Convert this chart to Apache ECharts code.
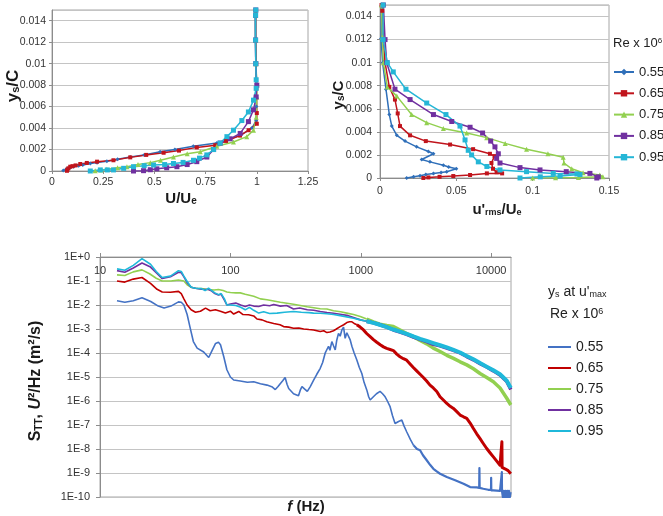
<!DOCTYPE html>
<html><head><meta charset="utf-8">
<script src="https://cdn.jsdelivr.net/npm/echarts@6/dist/echarts.min.js"></script>
<style>html,body{margin:0;padding:0;background:#fff}#c{width:663px;height:516px}</style>
</head><body><div id="c"></div><script>
// ---------- data ----------
const reLabels = ['0.55', '0.65', '0.75', '0.85', '0.95'];

// Mean velocity profiles  [U/Ue, ys/C]
const meanU_055 = [[0.993,0.015],[0.992,0.0145],[0.993,0.0122],[0.995,0.01],[0.997,0.0077],[0.998,0.006],[0.997,0.0047],[0.976,0.004],[0.918,0.0033],[0.805,0.0026],[0.69,0.0023],[0.6,0.002],[0.528,0.0018],[0.45,0.0015],[0.382,0.0013],[0.32,0.0011],[0.268,0.0009],[0.22,0.00078],[0.187,0.0007],[0.15,0.00055],[0.13,0.00048],[0.105,0.0004],[0.085,0.00025],[0.07,0.00018],[0.055,0.00005]];
const meanU_065 = [[0.996,0.015],[0.995,0.0145],[0.995,0.0122],[0.997,0.01],[0.998,0.0077],[1.0,0.0054],[1.0,0.0044],[0.96,0.0038],[0.918,0.0033],[0.85,0.0028],[0.797,0.0024],[0.707,0.0022],[0.62,0.0019],[0.545,0.0017],[0.46,0.0015],[0.382,0.00127],[0.3,0.001],[0.22,0.00087],[0.17,0.00075],[0.138,0.00065],[0.115,0.00052],[0.1,0.00045],[0.089,0.0004],[0.08,0.00025],[0.075,0.00012],[0.073,0.00002]];
const meanU_075 = [[0.995,0.015],[0.994,0.0145],[0.994,0.0122],[0.996,0.01],[1.0,0.008],[1.0,0.0069],[0.997,0.005],[0.984,0.0038],[0.951,0.0032],[0.886,0.0027],[0.805,0.0023],[0.724,0.0018],[0.66,0.0016],[0.593,0.0013],[0.53,0.001],[0.48,0.00078],[0.42,0.0006],[0.366,0.0004],[0.32,0.0003],[0.268,0.00016],[0.24,0.0001],[0.211,0.00002]];
const meanU_085 = [[0.995,0.015],[0.994,0.0145],[0.994,0.0122],[0.995,0.01],[1.0,0.008],[0.997,0.0069],[0.984,0.0057],[0.959,0.0046],[0.919,0.0035],[0.87,0.003],[0.821,0.0026],[0.789,0.002],[0.756,0.0013],[0.707,0.00087],[0.66,0.0006],[0.61,0.0004],[0.56,0.0003],[0.512,0.0002],[0.48,0.00012],[0.447,0.00003],[0.398,0.0]];
const meanU_095 = [[0.995,0.015],[0.994,0.0145],[0.994,0.0122],[0.995,0.01],[0.997,0.0085],[0.997,0.0077],[0.984,0.0066],[0.959,0.0055],[0.927,0.0047],[0.886,0.0038],[0.854,0.0032],[0.821,0.0026],[0.789,0.002],[0.756,0.0015],[0.72,0.0012],[0.691,0.001],[0.64,0.0008],[0.593,0.0007],[0.55,0.0006],[0.496,0.00056],[0.45,0.0005],[0.398,0.0004],[0.35,0.00025],[0.3,0.0001],[0.27,0.0001],[0.236,0.0001],[0.187,0.0]];

// Turbulence intensity profiles  [u'rms/Ue, ys/C]
const urms_055 = [[0.0011,0.015],[0.0007,0.0121],[0.0017,0.01],[0.0039,0.0077],[0.0061,0.0055],[0.0077,0.0045],[0.011,0.0037],[0.0164,0.0032],[0.024,0.0027],[0.0317,0.0023],[0.035,0.0021],[0.0273,0.0016],[0.0327,0.0014],[0.0415,0.0011],[0.045,0.00095],[0.05,0.0008],[0.0437,0.00055],[0.04,0.00048],[0.035,0.0004],[0.03,0.0003],[0.0262,0.0002],[0.022,0.0001],[0.0175,0.0]];
const urms_065 = [[0.001,0.015],[0.0015,0.0145],[0.0022,0.012],[0.0033,0.01],[0.0061,0.0079],[0.0098,0.0068],[0.0116,0.0056],[0.0131,0.0045],[0.0197,0.0037],[0.03,0.0032],[0.0459,0.0029],[0.061,0.0025],[0.072,0.0021],[0.075,0.0019],[0.073,0.0013],[0.074,0.0008],[0.0764,0.0005],[0.08,0.0004],[0.07,0.0004],[0.059,0.00026],[0.048,0.00017],[0.039,0.0001],[0.0317,0.00005],[0.0284,0.0]];
const urms_075 = [[0.001,0.015],[0.0015,0.0122],[0.0022,0.01],[0.0048,0.0079],[0.011,0.0071],[0.0207,0.0055],[0.0306,0.0048],[0.0415,0.0043],[0.0568,0.0039],[0.0699,0.0035],[0.082,0.003],[0.096,0.0025],[0.11,0.0021],[0.12,0.0018],[0.1205,0.0013],[0.1256,0.0008],[0.133,0.00046],[0.144,0.00026],[0.146,0.0001],[0.13,0.00005],[0.115,0.00002],[0.1,0.0]];
const urms_085 = [[0.0022,0.015],[0.0033,0.012],[0.0044,0.01],[0.0098,0.0077],[0.0197,0.0068],[0.035,0.0055],[0.047,0.0049],[0.059,0.0044],[0.0672,0.0039],[0.0725,0.0032],[0.0753,0.0027],[0.0775,0.0021],[0.0764,0.0017],[0.0786,0.0013],[0.0917,0.0009],[0.1048,0.0007],[0.122,0.00055],[0.1375,0.0004],[0.143,0.0001],[0.142,0.0]];
const urms_095 = [[0.002,0.015],[0.002,0.012],[0.0048,0.01],[0.0087,0.0092],[0.017,0.0077],[0.0306,0.0065],[0.0432,0.0055],[0.0524,0.0045],[0.0557,0.0033],[0.0578,0.0024],[0.06,0.002],[0.0644,0.0014],[0.07,0.001],[0.0786,0.0007],[0.096,0.00055],[0.1135,0.0004],[0.129,0.00035],[0.131,0.0003],[0.118,0.00017],[0.105,0.0001],[0.0917,0.0]];

// Spectra  [f (Hz), S_TT]
const spec_055 = [[13.5,1.5e-2],[15.5,1.3e-2],[18,1.5e-2],[21,2.0e-2],[24.5,1.4e-2],[28,9e-3],[31,7.5e-3],[35,9e-3],[40,1.35e-2],[42,1.3e-2],[44,1.0e-2],[46.6,4e-3],[49,1.2e-3],[52,3e-4],[55.6,1.6e-4],[62.4,1.1e-4],[68.2,6.5e-5],[72,1.2e-4],[77,2.5e-4],[81,2.8e-4],[84,2.2e-4],[89,7e-5],[94,2e-5],[100,1.0e-5],[106,7.5e-6],[119,6.8e-6],[135,6.0e-6],[151,6.3e-6],[170,5.2e-6],[191,4.6e-6],[210,3.8e-6],[221,3.0e-6],[232,4.0e-6],[242,5.4e-6],[252,7e-6],[263,9.5e-6],[272,5e-6],[280,3.3e-6],[305,2.0e-6],[333,1.66e-6],[345,3e-6],[354,4.0e-6],[370,3.2e-6],[389,2.5e-6],[410,4e-6],[435,7.4e-6],[460,1.3e-5],[489,2.3e-5],[510,4e-5],[533,9.8e-5],[550,1.4e-4],[566,1.9e-4],[580,1.3e-4],[600,3.0e-4],[618,2.0e-4],[637,1.35e-4],[655,3.5e-4],[675,6.6e-4],[695,5e-4],[716,9.1e-4],[738,1.2e-3],[759,4.1e-4],[782,7e-4],[805,6.6e-4],[830,3.5e-4],[855,1.9e-4],[890,1.0e-4],[933,5.1e-5],[975,2.5e-5],[1019,1.4e-5],[1060,6e-6],[1112,2.9e-6],[1150,1.5e-6],[1180,1.1e-6],[1250,1.5e-6],[1320,2.0e-6],[1406,2.5e-6],[1470,2.0e-6],[1538,1.5e-6],[1600,1.0e-6],[1679,5.8e-7],[1750,2.5e-7],[1832,1.15e-7],[1950,1.4e-7],[2065,1.6e-7],[2150,9e-8],[2254,5.1e-8],[2400,2.5e-8],[2535,1.45e-8],[2700,1.0e-8],[2851,8.9e-9],[3000,5.5e-9],[3206,3.4e-9],[3400,2.2e-9],[3606,1.5e-9],[3800,1.2e-9],[4055,9.3e-10],[4571,6.8e-10],[5297,5.0e-10],[6138,3.6e-10],[6902,2.6e-10],[7762,2.5e-10],[8100,2.4e-10],[8128,1.6e-9],[8160,2.4e-10],[8710,2.2e-10],[9500,2.0e-10],[9980,2.0e-10],[10000,6.3e-10],[10030,1.9e-10],[10400,1.9e-10],[11700,1.8e-10],[12050,1.8e-10],[12080,1.1e-9],[12110,1.8e-10],[12300,1.0e-10],[12500,1.8e-10],[12700,1.0e-10],[12900,1.8e-10],[13100,1.0e-10],[13300,1.8e-10],[13500,1.0e-10],[13700,1.8e-10],[13900,1.0e-10],[14100,1.6e-10]];
const spec_065 = [[13.5,1.0e-1],[15.5,9e-2],[18,1.2e-1],[21,1.4e-1],[24.4,8e-2],[27.4,4.5e-2],[30,3.5e-2],[34.7,3.4e-2],[40,3.7e-2],[42,3.0e-2],[44,1.8e-2],[46.6,1.0e-2],[50,6.3e-3],[54,5.0e-3],[58.9,5.5e-3],[64.5,7.4e-3],[70,5.8e-3],[76.8,6.3e-3],[83.8,5.5e-3],[91.6,4.6e-3],[100,5.5e-3],[106,4.2e-3],[116,5.4e-3],[125,4.0e-3],[138,3.9e-3],[151,3.5e-3],[160,2.6e-3],[175,2.4e-3],[190,2.0e-3],[215,1.7e-3],[240,1.5e-3],[256,1.26e-3],[280,1.2e-3],[305,1.07e-3],[335,1.1e-3],[365,1.0e-3],[400,9.5e-4],[435,9.1e-4],[489,7.8e-4],[520,8.5e-4],[550,7.1e-4],[580,7.5e-4],[618,8.5e-4],[650,1.0e-3],[695,1.26e-3],[740,1.5e-3],[782,1.86e-3],[820,2.0e-3],[855,2.0e-3],[890,1.7e-3],[933,1.5e-3],[990,1.2e-3],[1050,9.1e-4],[1110,6.5e-4],[1180,4.8e-4],[1250,3.6e-4],[1327,2.8e-4],[1410,2.2e-4],[1493,1.8e-4],[1580,1.55e-4],[1679,1.4e-4],[1780,1.26e-4],[1888,9e-5],[2000,7e-5],[2123,5.8e-5],[2250,5e-5],[2388,3.5e-5],[2530,2.5e-5],[2685,1.8e-5],[2850,1.3e-5],[3020,9.5e-6],[3200,6.8e-6],[3396,4.6e-6],[3600,3.5e-6],[3828,2.5e-6],[4055,1.5e-6],[4300,1.1e-6],[4571,7.9e-7],[4850,6.0e-7],[5140,4.9e-7],[5450,3.6e-7],[5781,2.6e-7],[6138,2.2e-7],[6501,1.9e-7],[6900,1.2e-7],[7311,7.1e-8],[7750,4.3e-8],[8222,2.7e-8],[8700,1.7e-8],[9247,1.05e-8],[9800,7e-9],[10400,4.7e-9],[11000,3.2e-9],[11700,2.1e-9],[12050,1.8e-9],[12090,2.0e-8],[12130,1.7e-9],[12760,1.5e-9],[13500,1.26e-9],[14150,9.3e-10]];
const spec_075 = [[13.5,1.8e-1],[15.5,1.7e-1],[18,2.4e-1],[21,2.9e-1],[24,2.0e-1],[27,1.3e-1],[30,1.0e-1],[35,1.0e-1],[40,1.1e-1],[44,1.0e-1],[46.6,7e-2],[50,5.5e-2],[54,5.0e-2],[60,4.8e-2],[68,4.4e-2],[75,4.2e-2],[81,4.4e-2],[88,4.0e-2],[94,3.5e-2],[100,3.3e-2],[110,3.2e-2],[119,3.2e-2],[130,2.8e-2],[151,2.3e-2],[170,1.8e-2],[191,1.66e-2],[242,1.3e-2],[305,1.07e-2],[389,8.5e-3],[489,7e-3],[550,6.8e-3],[618,5.8e-3],[700,5.2e-3],[782,4.6e-3],[880,4.0e-3],[991,3.3e-3],[1110,2.6e-3],[1250,2.0e-3],[1400,1.6e-3],[1585,1.4e-3],[1780,1.26e-3],[2004,9.1e-4],[2250,6.5e-4],[2535,4.8e-4],[2850,3.3e-4],[3206,2.4e-4],[3600,1.6e-4],[4055,1.15e-4],[4571,8e-5],[5140,6.0e-5],[5781,4.3e-5],[6501,3.2e-5],[7311,2.2e-5],[8222,1.4e-5],[9247,9.5e-6],[10400,6.3e-6],[11700,3.5e-6],[13180,1.3e-6],[14150,6.8e-7]];
const spec_085 = [[13.5,2.7e-1],[15.5,2.3e-1],[18,3.5e-1],[21,5.6e-1],[24.4,3.8e-1],[27,2.2e-1],[30,1.26e-1],[34.7,1.5e-1],[40,2.3e-1],[42,2.2e-1],[44,1.5e-1],[46.6,8.5e-2],[50,5.5e-2],[54,5.0e-2],[60,4.5e-2],[68,4.4e-2],[72,3.8e-2],[76,3.0e-2],[81,2.6e-2],[85,2.8e-2],[90,1.6e-2],[94,1.0e-2],[100,1.1e-2],[110,1.2e-2],[120,1.0e-2],[130,8.7e-3],[140,1.0e-2],[151,9e-3],[165,8.7e-3],[180,1.0e-2],[200,9.3e-3],[215,1.05e-2],[242,9e-3],[270,9.5e-3],[305,6.8e-3],[340,7.5e-3],[389,6.3e-3],[435,6.0e-3],[489,5.4e-3],[550,4.9e-3],[618,4.5e-3],[695,4.1e-3],[782,3.7e-3],[880,3.0e-3],[991,2.4e-3],[1110,2.1e-3],[1250,1.8e-3],[1400,1.5e-3],[1585,1.2e-3],[1780,9.1e-4],[2004,7.5e-4],[2250,6e-4],[2535,4.6e-4],[2850,3.7e-4],[3206,3.0e-4],[3600,2.3e-4],[4055,2.0e-4],[4571,1.6e-4],[5140,1.3e-4],[5781,1.0e-4],[6501,7.1e-5],[7311,5.2e-5],[8222,3.6e-5],[9247,2.6e-5],[10400,1.8e-5],[11700,1.2e-5],[13180,6.5e-6],[14150,3.0e-6]];
const spec_095 = [[13.5,3.2e-1],[15.5,2.8e-1],[18,4.5e-1],[21,8.5e-1],[24.4,5.0e-1],[27,2.5e-1],[30,1.4e-1],[34.7,1.6e-1],[40,2.7e-1],[42,2.5e-1],[44,1.6e-1],[46.6,9.5e-2],[50,5.5e-2],[54,5.0e-2],[60,4.8e-2],[64,4.0e-2],[68,5.0e-2],[72,4.0e-2],[76,3.2e-2],[81,2.7e-2],[85,3.0e-2],[90,1.8e-2],[94,1.0e-2],[100,1.0e-2],[110,9.5e-3],[120,8e-3],[130,6.3e-3],[140,8e-3],[151,6e-3],[165,4.6e-3],[180,5.2e-3],[200,4.4e-3],[228,4.6e-3],[260,5.0e-3],[305,5.4e-3],[350,5.0e-3],[400,4.8e-3],[435,4.6e-3],[489,4.5e-3],[550,4.3e-3],[618,4.0e-3],[695,3.6e-3],[782,3.2e-3],[880,2.8e-3],[991,2.4e-3],[1110,2.1e-3],[1250,1.8e-3],[1400,1.5e-3],[1585,1.2e-3],[1780,9.5e-4],[2004,7.8e-4],[2250,6.3e-4],[2535,4.9e-4],[2850,3.9e-4],[3206,3.2e-4],[3600,2.6e-4],[4055,2.1e-4],[4571,1.7e-4],[5140,1.35e-4],[5781,1.05e-4],[6501,7.5e-5],[7311,5.5e-5],[8222,3.8e-5],[9247,2.7e-5],[10400,1.9e-5],[11700,1.3e-5],[13180,7e-6],[14150,3.5e-6]];

const meanU = [meanU_055, meanU_065, meanU_075, meanU_085, meanU_095];
const urms = [urms_055, urms_065, urms_075, urms_085, urms_095];
const spectra = [spec_055, spec_065, spec_075, spec_085, spec_095];

// ---------- styles ----------
const topColors = ['#2F6FB9', '#C0141C', '#92D050', '#7030A0', '#25B6D6'];
const botColors = ['#4472C4', '#C00000', '#92D050', '#7030A0', '#1FB8DA'];
const symbols = ['diamond', 'rect', 'triangle', 'rect', 'rect'];
const symSizes = [4, 4, 5, 5, 5];
// noisy (thick) part of each spectrum starts at this frequency
const bandFrom = [2500, 900, 1000, 1000, 1000];
const bandWidth = [2.2, 3, 3.5, 3.5, 4];
const FONT = 'Liberation Sans, Arial, sans-serif';
const LBL = '#333';
const GRIDC = '#C4C4C4';
const AXC = '#8C8C8C';

const chart = echarts.init(document.getElementById('c'), null, { renderer: 'canvas' });

function valAxis(gi, o) {
  return Object.assign({
    type: 'value', gridIndex: gi,
    axisLine: { show: true, onZero: false, lineStyle: { color: AXC, width: 1 } },
    axisTick: { show: true, length: 3, lineStyle: { color: AXC } },
    splitLine: { show: false },
    axisLabel: { color: LBL, fontSize: 10.5, fontFamily: FONT }
  }, o);
}

const series = [];
reLabels.forEach((n, i) => {
  series.push({
    name: n, type: 'line', xAxisIndex: 0, yAxisIndex: 0, data: meanU[i],
    symbol: symbols[i], symbolSize: symSizes[i], showSymbol: true,
    lineStyle: { color: topColors[i], width: 1.5 }, itemStyle: { color: topColors[i] }
  });
});
reLabels.forEach((n, i) => {
  series.push({
    name: n, type: 'line', xAxisIndex: 1, yAxisIndex: 1, data: urms[i],
    symbol: symbols[i], symbolSize: symSizes[i], showSymbol: true,
    lineStyle: { color: topColors[i], width: 1.5 }, itemStyle: { color: topColors[i] }
  });
});
reLabels.forEach((n, i) => {
  const d = spectra[i];
  let k = d.findIndex(p => p[0] >= bandFrom[i]);
  if (k < 0) k = d.length - 1;
  series.push({
    name: 'S' + n, type: 'line', xAxisIndex: 2, yAxisIndex: 2, data: d.slice(0, k + 1),
    symbol: 'none', showSymbol: false,
    lineStyle: { color: botColors[i], width: 1.6 }, itemStyle: { color: botColors[i] }
  });
  series.push({
    name: 'S' + n, type: 'line', xAxisIndex: 2, yAxisIndex: 2, data: d.slice(k),
    symbol: 'none', showSymbol: false,
    lineStyle: { color: botColors[i], width: bandWidth[i], join: 'round' }, itemStyle: { color: botColors[i] }
  });
});

const sub = (fs) => ({ fontSize: fs, fontWeight: 'bold', fontFamily: FONT, lineHeight: 6, verticalAlign: 'bottom' });
const sup = (fs) => ({ fontSize: fs, fontFamily: FONT, lineHeight: 6, verticalAlign: 'top' });

chart.setOption({
  animation: false,
  backgroundColor: '#fff',
  grid: [
    { left: 52, top: 10, width: 256, height: 161, show: true, borderColor: '#A6A6A6', borderWidth: 1, backgroundColor: 'transparent' },
    { left: 380, top: 5, width: 229, height: 173, show: true, borderColor: '#A6A6A6', borderWidth: 1, backgroundColor: 'transparent' },
    { left: 100, top: 257, width: 411, height: 240, show: true, borderColor: '#A6A6A6', borderWidth: 1, backgroundColor: 'transparent' }
  ],
  xAxis: [
    valAxis(0, { min: 0, max: 1.25, interval: 0.25, position: 'bottom',
      axisLabel: { color: LBL, fontSize: 10.5, fontFamily: FONT, margin: 6 } }),
    valAxis(1, { min: 0, max: 0.15, interval: 0.05, position: 'bottom',
      axisLabel: { color: LBL, fontSize: 10.5, fontFamily: FONT, margin: 8 } }),
    { type: 'log', gridIndex: 2, logBase: 10, min: 10, max: 14200, interval: 1, position: 'top',
      axisLine: { show: true, onZero: false, lineStyle: { color: AXC } },
      axisTick: { show: true, length: 4, inside: false, lineStyle: { color: AXC } },
      splitLine: { show: false }, minorTick: { show: false }, minorSplitLine: { show: false },
      axisLabel: { inside: true, margin: 8, color: LBL, fontSize: 11, fontFamily: FONT, showMaxLabel: false,
        formatter: v => String(Math.round(v)) } }
  ],
  yAxis: [
    valAxis(0, { min: 0, max: 0.015, interval: 0.002,
      splitLine: { show: true, lineStyle: { color: GRIDC, width: 1 } },
      axisLabel: { color: LBL, fontSize: 10.5, fontFamily: FONT, margin: 6, showMaxLabel: false } }),
    valAxis(1, { min: 0, max: 0.015, interval: 0.002,
      splitLine: { show: true, lineStyle: { color: GRIDC, width: 1 } },
      axisLabel: { color: LBL, fontSize: 10.5, fontFamily: FONT, margin: 8, showMaxLabel: false } }),
    { type: 'log', gridIndex: 2, logBase: 10, min: 1e-10, max: 1, interval: 1, splitNumber: 10,
      axisLine: { show: true, onZero: false, lineStyle: { color: AXC } },
      axisTick: { show: true, length: 4, lineStyle: { color: AXC } },
      splitLine: { show: true, lineStyle: { color: GRIDC, width: 1 } },
      minorTick: { show: false }, minorSplitLine: { show: false },
      axisLabel: { color: LBL, fontSize: 11, fontFamily: FONT, margin: 10,
        formatter: v => { const e = Math.round(Math.log10(v)); return '1E' + (e >= 0 ? '+' : '') + e; } } }
  ],
  legend: [
    { data: reLabels, orient: 'vertical', left: 608, top: 60, itemWidth: 20, itemHeight: 8, itemGap: 7.3,
      selectedMode: false, textStyle: { fontSize: 13, lineHeight: 14, color: '#222', fontFamily: FONT } },
    { data: reLabels.map(n => ({ name: 'S' + n, icon: 'rect' })), orient: 'vertical', left: 543, top: 335,
      itemWidth: 23, itemHeight: 2, itemGap: 7,
      selectedMode: false, formatter: n => n.slice(1),
      textStyle: { fontSize: 14, lineHeight: 14, color: '#222', fontFamily: FONT } }
  ],
  graphic: [
    { type: 'text', x: 13, y: 86, rotation: Math.PI / 2,
      style: { text: '{b|y}{s|s}{b|/C}', align: 'center', verticalAlign: 'middle', fill: '#1a1a1a',
        rich: { b: { fontSize: 17, fontWeight: 'bold', fontFamily: FONT }, s: sub(11) } } },
    { type: 'text', x: 181, y: 199,
      style: { text: '{b|U/U}{s|e}', align: 'center', verticalAlign: 'middle', fill: '#1a1a1a',
        rich: { b: { fontSize: 15, fontWeight: 'bold', fontFamily: FONT }, s: sub(10) } } },
    { type: 'text', x: 339, y: 95, rotation: Math.PI / 2,
      style: { text: '{b|y}{s|s}{b|/C}', align: 'center', verticalAlign: 'middle', fill: '#1a1a1a',
        rich: { b: { fontSize: 15, fontWeight: 'bold', fontFamily: FONT }, s: sub(10) } } },
    { type: 'text', x: 497, y: 210,
      style: { text: "{b|u'}{s|rms}{b|/U}{s|e}", align: 'center', verticalAlign: 'middle', fill: '#1a1a1a',
        rich: { b: { fontSize: 15, fontWeight: 'bold', fontFamily: FONT }, s: sub(9) } } },
    { type: 'text', x: 613, y: 43,
      style: { text: 'Re x 10{p|6}', align: 'left', verticalAlign: 'middle', fill: '#222', fontSize: 13, fontFamily: FONT,
        rich: { p: sup(8) } } },
    { type: 'text', x: 36, y: 381, rotation: Math.PI / 2,
      style: { text: '{b|S}{s|TT}{b|, }{i|U}{b|²/Hz (m²/s)}', align: 'center', verticalAlign: 'middle', fill: '#1a1a1a',
        rich: { b: { fontSize: 16, fontWeight: 'bold', fontFamily: FONT },
                i: { fontSize: 16, fontWeight: 'bold', fontStyle: 'italic', fontFamily: FONT }, s: sub(10) } } },
    { type: 'text', x: 306, y: 507,
      style: { text: '{i|f}{b| (Hz)}', align: 'center', verticalAlign: 'middle', fill: '#1a1a1a',
        rich: { b: { fontSize: 15, fontWeight: 'bold', fontFamily: FONT },
                i: { fontSize: 15, fontWeight: 'bold', fontStyle: 'italic', fontFamily: FONT } } } },
    { type: 'text', x: 548, y: 292,
      style: { text: "y{s|s} at u'{s|max}", align: 'left', verticalAlign: 'middle', fill: '#222', fontSize: 14, fontFamily: FONT,
        rich: { s: { fontSize: 9, fontFamily: FONT, lineHeight: 6, verticalAlign: 'bottom' } } } },
    { type: 'text', x: 550, y: 314,
      style: { text: 'Re x 10{p|6}', align: 'left', verticalAlign: 'middle', fill: '#222', fontSize: 14, fontFamily: FONT,
        rich: { p: sup(9) } } }
  ],
  series: series
});
</script></body></html>
